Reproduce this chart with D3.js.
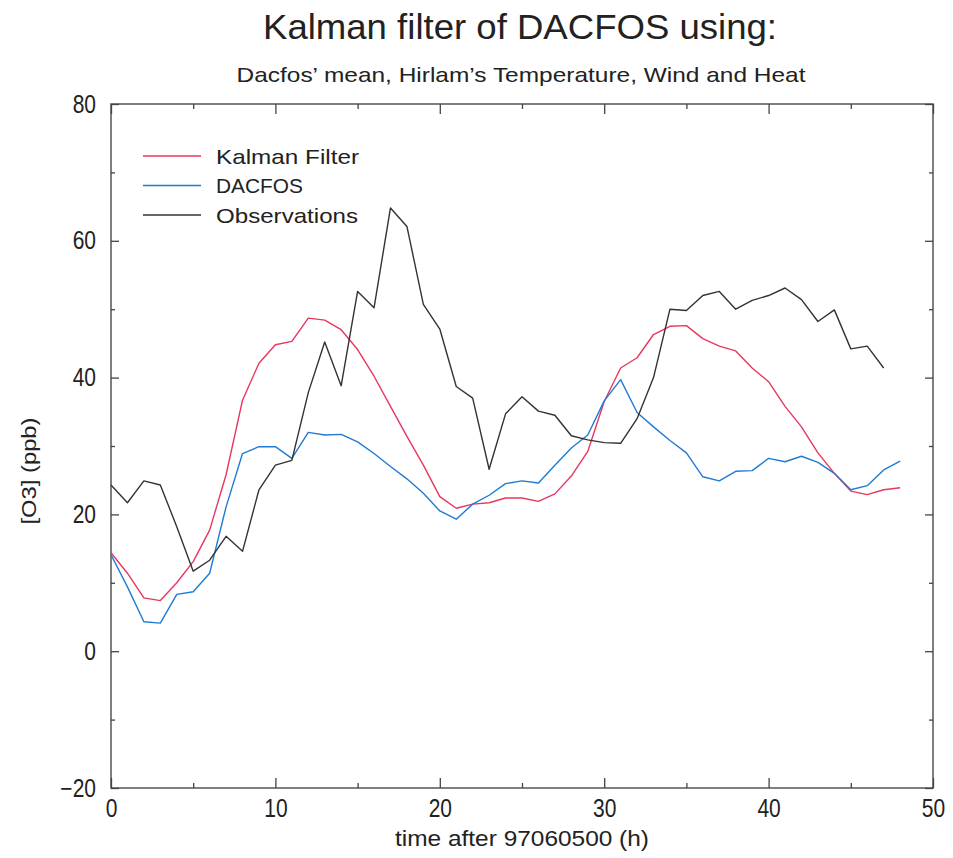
<!DOCTYPE html>
<html>
<head>
<meta charset="utf-8">
<script src="https://cdn.jsdelivr.net/npm/d3@7"></script>
<style>
  html, body { margin: 0; padding: 0; background: #fff; }
  svg { display: block; font-family: "Liberation Sans", Arial, Helvetica, sans-serif; }
  .axis path { display: none; }
  .axis line { stroke: #444; stroke-width: 1.3; }
  .axis text { font-size: 25px; fill: #222; font-family: "Liberation Sans", Arial, Helvetica, sans-serif; }
</style>
</head>
<body>
<svg id="chart" width="953" height="858"></svg>
<script>
// Hours after 97060500
const hours = d3.range(0, 49);

// Ozone concentration [O3] in ppb
const kalman = [14.4, 11.4, 7.8, 7.4, 10.0, 13.1, 17.7, 25.8, 36.7, 42.1, 44.8, 45.3, 48.7, 48.4, 47.0, 44.1, 40.2,
  35.8, 31.4, 27.2, 22.6, 20.9, 21.5, 21.7, 22.4, 22.4, 21.9, 23.0, 25.6, 29.2, 36.5, 41.4, 42.9, 46.3, 47.5, 47.6,
  45.7, 44.6, 43.9, 41.4, 39.4, 35.8, 32.8, 29.0, 26.0, 23.4, 22.9, 23.6, 23.9];

const dacfos = [14.1, 9.4, 4.3, 4.1, 8.3, 8.7, 11.4, 21.1, 28.9, 29.9, 29.9, 28.2, 32.0, 31.6, 31.7, 30.6, 28.9,
  27.0, 25.2, 23.1, 20.5, 19.3, 21.5, 22.8, 24.5, 24.9, 24.6, 27.2, 29.7, 31.6, 36.6, 39.7, 34.9, 32.8, 30.8, 29.0,
  25.5, 24.9, 26.3, 26.4, 28.2, 27.7, 28.5, 27.6, 26.0, 23.6, 24.2, 26.5, 27.8];

const observations = [24.3, 21.7, 24.9, 24.3, 18.2, 11.7, 13.3, 16.8, 14.6, 23.6, 27.2, 27.9, 37.8, 45.2, 38.8,
  52.6, 50.2, 64.8, 62.1, 50.7, 47.1, 38.7, 37.0, 26.6, 34.7, 37.2, 35.1, 34.5, 31.5, 30.9, 30.5, 30.4, 34.0, 40.0,
  50.0, 49.8, 52.0, 52.6, 50.0, 51.3, 52.0, 53.1, 51.4, 48.2, 49.9, 44.2, 44.6, 41.4];

const xMajorTicks = [0, 10, 20, 30, 40, 50];
const xMinorTicks = [5, 15, 25, 35, 45];
const yMajorTicks = [-20, 0, 20, 40, 60, 80];
const yMinorTicks = [-10, 10, 30, 50, 70];

const seriesNames = ["Kalman Filter", "DACFOS", "Observations"];
const seriesColors = ["#e8375e", "#1f7bd3", "#333333"];
const seriesValues = [kalman, dacfos, observations];

const svg = d3.select("#chart");
const plotLeft = 111, plotRight = 933, plotTop = 104, plotBottom = 788;

const x = d3.scaleLinear().domain([0, 50]).range([plotLeft, plotRight]);
const y = d3.scaleLinear().domain([-20, 80]).range([plotBottom, plotTop]);

// narrow the glyphs of a text selection horizontally
function condense(sel, factor) {
  sel.each(function () {
    const w = this.getComputedTextLength();
    if (w > 0) {
      d3.select(this).attr("textLength", w * factor).attr("lengthAdjust", "spacingAndGlyphs");
    }
  });
}

// frame
svg.append("rect")
  .attr("x", plotLeft).attr("y", plotTop)
  .attr("width", plotRight - plotLeft).attr("height", plotBottom - plotTop)
  .attr("fill", "none").attr("stroke", "#555").attr("stroke-width", 1.5);

// bottom axis: labelled major ticks + minor ticks, pointing inward
svg.append("g").attr("class", "axis")
  .attr("transform", `translate(0,${plotBottom})`)
  .call(d3.axisBottom(x).tickValues(xMajorTicks).tickSize(-10).tickPadding(11).tickFormat(d3.format("d")))
  .call(g => condense(g.selectAll("text"), 0.84));
svg.append("g").attr("class", "axis")
  .attr("transform", `translate(0,${plotBottom})`)
  .call(d3.axisBottom(x).tickValues(xMinorTicks).tickSize(-5).tickFormat(""));
// top axis ticks
svg.append("g").attr("class", "axis")
  .attr("transform", `translate(0,${plotTop})`)
  .call(d3.axisTop(x).tickValues(xMajorTicks).tickSize(-10).tickFormat(""));
svg.append("g").attr("class", "axis")
  .attr("transform", `translate(0,${plotTop})`)
  .call(d3.axisTop(x).tickValues(xMinorTicks).tickSize(-5).tickFormat(""));

// left axis
const minus = d => (d < 0 ? "\u2212" + Math.abs(d) : String(d));
svg.append("g").attr("class", "axis")
  .attr("transform", `translate(${plotLeft},0)`)
  .call(d3.axisLeft(y).tickValues(yMajorTicks).tickSize(-8).tickPadding(15).tickFormat(minus))
  .call(g => condense(g.selectAll("text"), 0.84));
svg.append("g").attr("class", "axis")
  .attr("transform", `translate(${plotLeft},0)`)
  .call(d3.axisLeft(y).tickValues(yMinorTicks).tickSize(-4).tickFormat(""));
// right axis ticks
svg.append("g").attr("class", "axis")
  .attr("transform", `translate(${plotRight},0)`)
  .call(d3.axisRight(y).tickValues(yMajorTicks).tickSize(-8).tickFormat(""));
svg.append("g").attr("class", "axis")
  .attr("transform", `translate(${plotRight},0)`)
  .call(d3.axisRight(y).tickValues(yMinorTicks).tickSize(-4).tickFormat(""));

// series lines
const line = d3.line().x((d, i) => x(hours[i])).y(d => y(d));
seriesValues.forEach((vals, k) => {
  svg.append("path")
    .datum(vals)
    .attr("fill", "none")
    .attr("stroke", seriesColors[k])
    .attr("stroke-width", 1.4)
    .attr("stroke-linejoin", "round")
    .attr("d", line);
});

// legend
const legendWidths = [143, 87, 142];
const legend = svg.append("g");
seriesNames.forEach((name, k) => {
  const ly = 156 + k * 29.5;
  legend.append("line")
    .attr("x1", 143).attr("x2", 201).attr("y1", ly).attr("y2", ly)
    .attr("stroke", seriesColors[k]).attr("stroke-width", 1.4);
  legend.append("text")
    .attr("x", 216).attr("y", ly + 7.5)
    .attr("font-size", 21).attr("fill", "#222")
    .attr("textLength", legendWidths[k]).attr("lengthAdjust", "spacingAndGlyphs")
    .text(name);
});

// titles
svg.append("text")
  .attr("x", 520).attr("y", 39).attr("text-anchor", "middle")
  .attr("font-size", 35).attr("fill", "#222")
  .attr("textLength", 514).attr("lengthAdjust", "spacingAndGlyphs")
  .text("Kalman filter of DACFOS using:");
svg.append("text")
  .attr("x", 521).attr("y", 82).attr("text-anchor", "middle")
  .attr("font-size", 21).attr("fill", "#222")
  .attr("textLength", 569).attr("lengthAdjust", "spacingAndGlyphs")
  .text("Dacfos\u2019 mean, Hirlam\u2019s Temperature, Wind and Heat");

// axis titles
svg.append("text")
  .attr("x", 522).attr("y", 846).attr("text-anchor", "middle")
  .attr("font-size", 22).attr("fill", "#222")
  .attr("textLength", 254).attr("lengthAdjust", "spacingAndGlyphs")
  .text("time after 97060500 (h)");
svg.append("text")
  .attr("transform", "translate(36,471) rotate(-90)")
  .attr("text-anchor", "middle")
  .attr("font-size", 21).attr("fill", "#222")
  .attr("textLength", 107).attr("lengthAdjust", "spacingAndGlyphs")
  .text("[O3] (ppb)");
</script>
</body>
</html>
